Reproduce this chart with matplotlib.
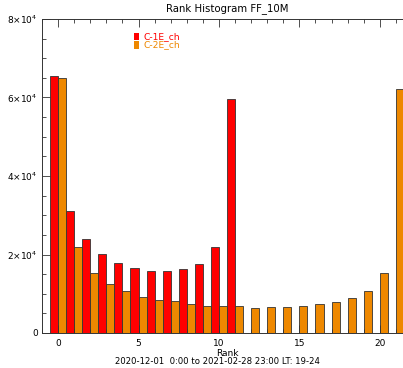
import matplotlib.pyplot as plt
import numpy as np
from matplotlib.ticker import MultipleLocator

# Rank histogram counts
ranks = np.arange(22)
c1e_counts = [65500, 31200, 23900, 20100, 17900, 16500, 15900, 15700, 16200, 17600,
              22000, 59600, 0, 0, 0, 0, 0, 0, 0, 0, 0, 0]
c2e_counts = [65000, 22000, 15200, 12400, 10800, 9250, 8300, 8100, 7400, 7000,
              6900, 6900, 6300, 6500, 6500, 7000, 7300, 8000, 9000, 10800, 15200, 62200]
series_names = ['C-1E_ch', 'C-2E_ch']
ytick_vals = [0, 20000, 40000, 60000, 80000]
ytick_labels = ['0', r'$2{\times}10^4$', r'$4{\times}10^4$', r'$6{\times}10^4$', r'$8{\times}10^4$']

red = '#ff0000'
orange = '#ee8800'

fig = plt.figure(figsize=(4.03, 3.68), dpi=100)
ax = fig.add_axes([42 / 403, 1 - 333 / 368, 370 / 403, 314 / 368])

# red bar sits left of the rank, orange bar right of it
ax.bar(ranks, c1e_counts, width=-0.5, align='edge', color=red, edgecolor='#333333', linewidth=0.6)
ax.bar(ranks, c2e_counts, width=0.5, align='edge', color=orange, edgecolor='#333333', linewidth=0.6)

ax.set_xlim(-1, 22)
ax.set_ylim(0, 80000)
ax.set_xticks([0, 5, 10, 15, 20])
ax.xaxis.set_minor_locator(MultipleLocator(1))
ax.set_yticks(ytick_vals)
ax.set_yticklabels(ytick_labels)
ax.yaxis.set_minor_locator(MultipleLocator(5000))
ax.tick_params(which='both', direction='in', top=True, right=True, labelsize=6.5,
               color='#333333', width=0.6)
ax.tick_params(which='major', length=6)
ax.tick_params(which='minor', length=3)
ax.tick_params(axis='x', pad=4)
ax.tick_params(axis='y', pad=3)
for sp in ax.spines.values():
    sp.set_linewidth(0.7)
    sp.set_color('#333333')

ax.set_title('Rank Histogram FF_10M', fontsize=7.3, pad=6)
ax.set_xlabel('Rank', fontsize=6.5, labelpad=1)

fig.text(217 / 403, 1 - 361 / 368, '2020-12-01  0:00 to 2021-02-28 23:00 LT: 19-24',
         ha='center', va='center', fontsize=6.1)

# small legend in the upper left
for i, (name, col) in enumerate(zip(series_names, [red, orange])):
    yy = 1 - (36.5 + 8.5 * i) / 368
    fig.patches.append(plt.Rectangle((134 / 403, yy - 3.5 / 368), 5 / 403, 7 / 368,
                                     transform=fig.transFigure, facecolor=col, edgecolor='none'))
    fig.text(144 / 403, yy, name, color=col, fontsize=6.6, va='center', ha='left')

fig.savefig('out.png', dpi=100)
